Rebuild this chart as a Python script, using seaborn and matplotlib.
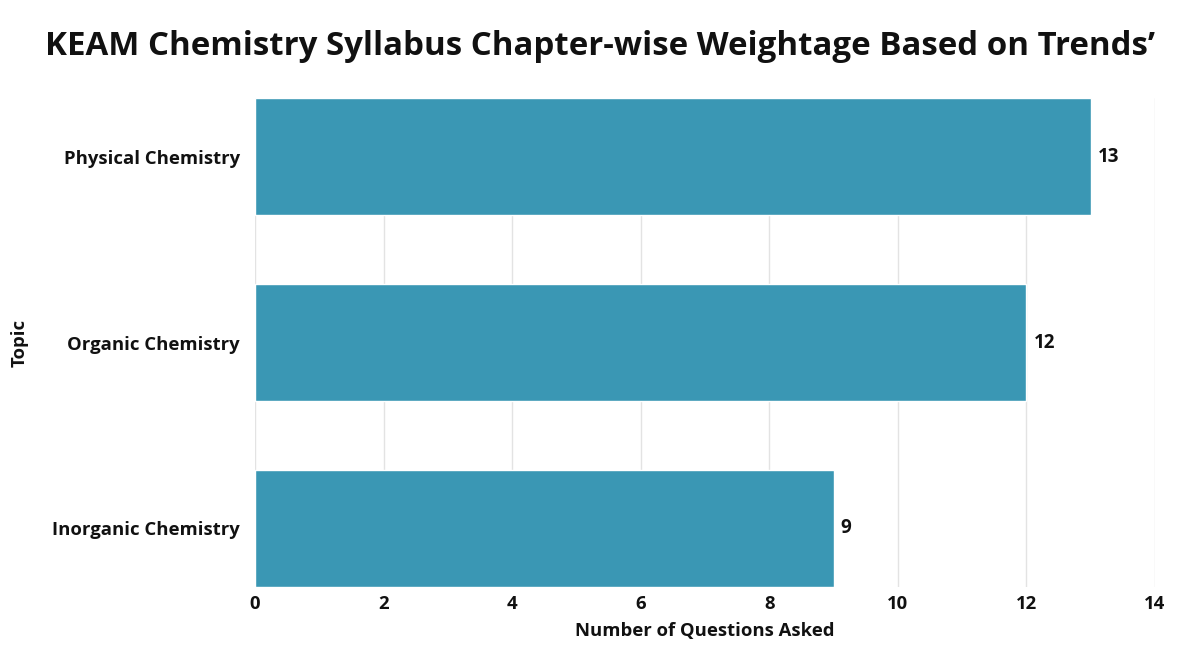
import matplotlib
matplotlib.use("Agg")
import matplotlib.pyplot as plt
import seaborn as sns
import pandas as pd

# chart data
topics = ["Physical Chemistry", "Organic Chemistry", "Inorganic Chemistry"]
questions = [13, 12, 9]
x_ticks = [0, 2, 4, 6, 8, 10, 12, 14]

BAR_COLOR = "#3a97b4"

sns.set_theme(style="white")
plt.rcParams["font.family"] = ["Open Sans", "DejaVu Sans"]

df = pd.DataFrame({"Topic": topics, "Questions": questions})

fig = plt.figure(figsize=(12, 6.49), dpi=100)
ax = fig.add_axes([0.2125, 0.0955, 0.75, 0.7535])

sns.barplot(data=df, x="Questions", y="Topic", color=BAR_COLOR,
            width=0.63, saturation=1, ax=ax, zorder=3)

ax.set_xlim(0, 14)
ax.set_ylim(2.315, -0.315)
ax.set_xticks(x_ticks)
ax.grid(axis="x", color="#e3e3e3", linewidth=1, zorder=0)
for s in ax.spines.values():
    s.set_visible(False)

ax.tick_params(axis="both", length=0, labelsize=13.3, colors="#111111")
ax.tick_params(axis="y", pad=11)
ax.tick_params(axis="x", pad=6)
for lab in ax.get_xticklabels() + ax.get_yticklabels():
    lab.set_fontweight("bold")

ax.set_xlabel("Number of Questions Asked", fontsize=13.3, fontweight="bold",
              color="#111111", labelpad=6)
ax.set_ylabel("Topic", fontsize=13.3, fontweight="bold", color="#111111")
ax.yaxis.set_label_coords(-0.252, 0.5)

for cont in ax.containers:
    ax.bar_label(cont, padding=5, fontsize=13.5, fontweight="bold",
                 color="#111111")

fig.text(0.5, 0.928, "KEAM Chemistry Syllabus Chapter-wise Weightage Based on Trends\u2019",
         ha="center", va="center", fontsize=23.8, fontweight="bold",
         color="#111111")

fig.savefig("out.png", dpi=100)
